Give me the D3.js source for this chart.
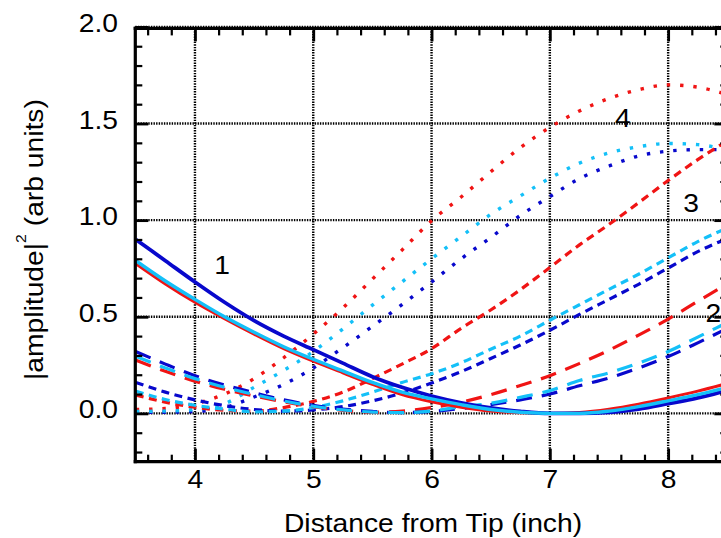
<!DOCTYPE html>
<html><head><meta charset="utf-8">
<script src="https://cdn.jsdelivr.net/npm/d3@7"></script>
<style>html,body{margin:0;padding:0;background:#fff;overflow:hidden}</style>
</head><body>
<svg id="chart" width="721" height="538"></svg>
<script>
// ---- data ----
const distance = [3.5, 3.75, 4.0, 4.25, 4.5, 4.75, 5.0, 5.25, 5.5, 5.75, 6.0, 6.25, 6.5, 6.75, 7.0, 7.25, 7.5, 7.75, 8.0, 8.25, 8.5];

// curve set 1 (solid)
const c1Red  = [0.775, 0.67, 0.575, 0.49, 0.41, 0.335, 0.27, 0.21, 0.15, 0.097, 0.06, 0.032, 0.012, 0.003, 0.0, 0.005, 0.022, 0.048, 0.08, 0.115, 0.155];
const c1Blue = [0.90, 0.79, 0.68, 0.575, 0.48, 0.40, 0.33, 0.26, 0.19, 0.135, 0.09, 0.055, 0.028, 0.01, 0.0, 0.0, 0.005, 0.022, 0.05, 0.08, 0.12];
const c1Cyan = [0.79, 0.685, 0.59, 0.50, 0.42, 0.345, 0.28, 0.22, 0.16, 0.11, 0.075, 0.045, 0.02, 0.006, 0.0, 0.0, 0.012, 0.035, 0.065, 0.097, 0.135];

// curve set 2 (long dash)
const c2Red  = [0.275, 0.218, 0.167, 0.125, 0.09, 0.06, 0.035, 0.016, 0.006, 0.012, 0.03, 0.058, 0.097, 0.144, 0.195, 0.258, 0.327, 0.405, 0.488, 0.58, 0.67];
const c2Blue = [0.32, 0.255, 0.195, 0.147, 0.107, 0.07, 0.042, 0.022, 0.01, 0.004, 0.01, 0.025, 0.045, 0.07, 0.10, 0.143, 0.183, 0.235, 0.294, 0.365, 0.44];
const c2Cyan = [0.295, 0.235, 0.18, 0.135, 0.098, 0.064, 0.037, 0.018, 0.007, 0.004, 0.012, 0.035, 0.052, 0.083, 0.118, 0.17, 0.21, 0.26, 0.32, 0.395, 0.47];

// curve set 3 (short dash)
const c3Red  = [0.095, 0.058, 0.032, 0.016, 0.012, 0.03, 0.062, 0.11, 0.18, 0.255, 0.335, 0.44, 0.535, 0.64, 0.755, 0.872, 0.978, 1.09, 1.205, 1.313, 1.41];
const c3Blue = [0.16, 0.11, 0.07, 0.04, 0.02, 0.012, 0.018, 0.035, 0.065, 0.105, 0.157, 0.216, 0.284, 0.354, 0.43, 0.512, 0.59, 0.668, 0.752, 0.837, 0.905];
const c3Cyan = [0.115, 0.072, 0.042, 0.022, 0.008, 0.012, 0.03, 0.065, 0.11, 0.16, 0.205, 0.262, 0.332, 0.40, 0.482, 0.562, 0.642, 0.72, 0.805, 0.889, 0.96];

// curve set 4 (dotted)
const c4Red  = [0.02, 0.025, 0.05, 0.1, 0.18, 0.288, 0.41, 0.545, 0.695, 0.845, 0.997, 1.12, 1.25, 1.375, 1.48, 1.565, 1.63, 1.675, 1.70, 1.688, 1.65];
const c4Blue = [0.005, 0.006, 0.01, 0.03, 0.085, 0.15, 0.235, 0.34, 0.45, 0.563, 0.68, 0.80, 0.91, 1.024, 1.122, 1.215, 1.28, 1.332, 1.357, 1.365, 1.365];
const c4Cyan = [0.01, 0.012, 0.02, 0.05, 0.135, 0.222, 0.32, 0.437, 0.56, 0.68, 0.80, 0.915, 1.03, 1.125, 1.217, 1.295, 1.348, 1.38, 1.397, 1.391, 1.365];

const xTicks = [4, 5, 6, 7, 8];
const yTicks = [0.0, 0.5, 1.0, 1.5, 2.0];

const curveLabels = ["1", "2", "3", "4"];
const curveLabelX = [4.229, 8.382, 8.193, 7.618];
const curveLabelY = [0.768, 0.518, 1.087, 1.527];

const xTitle = "Distance from Tip (inch)";

// ---- styles ----
const RED = "#f01414", BLUE = "#0808cc", CYAN = "#14c0f8";
const FONT = "'Liberation Sans', Arial, Helvetica, sans-serif";
const SX = 1.13;

const series = [
  {v: c4Red, c: RED, dash: "3.4,9.9", w: 3.4},
  {v: c4Blue, c: BLUE, dash: "3.4,9.9", w: 3.4},
  {v: c4Cyan, c: CYAN, dash: "3.4,9.9", w: 3.4},
  {v: c3Red, c: RED, dash: "8,5.5", w: 3.2},
  {v: c3Blue, c: BLUE, dash: "8,5.5", w: 3.2},
  {v: c3Cyan, c: CYAN, dash: "8,5.5", w: 3.2},
  {v: c2Red, c: RED, dash: "16,10", w: 3.2},
  {v: c2Blue, c: BLUE, dash: "16,10", w: 3.2},
  {v: c2Cyan, c: CYAN, dash: "16,10", w: 3.2},
  {v: c1Red, c: RED, dash: null, w: 3},
  {v: c1Blue, c: BLUE, dash: null, w: 3.8},
  {v: c1Cyan, c: CYAN, dash: null, w: 3.4}
];

const svg = d3.select("#chart");
const x = d3.scaleLinear().domain([3.5, 8.5]).range([135.8, 727.3]);
const y = d3.scaleLinear().domain([-0.25, 2.0]).range([461.7, 26.9]);
const pLeft = 135.3, pBottom = 461.7, pTop = 28.4, pRight = x(8.5);

svg.append("defs").append("clipPath").attr("id", "plotclip")
  .append("rect").attr("x", pLeft).attr("y", pTop).attr("width", pRight - pLeft).attr("height", pBottom - pTop);

// grid
const grid = svg.append("g").attr("stroke", "#000").attr("stroke-width", 2.4).attr("stroke-dasharray", "1.4,1.2");
grid.selectAll("line.vx").data(xTicks).join("line").attr("class", "vx")
  .attr("x1", d => x(d)).attr("x2", d => x(d)).attr("y1", y(-0.25)).attr("y2", y(2.0));
grid.selectAll("line.hy").data(yTicks).join("line").attr("class", "hy")
  .attr("x1", pLeft).attr("x2", pRight).attr("y1", d => y(d)).attr("y2", d => y(d));

// curves
const line = d3.line().x((d, i) => x(distance[i])).y(d => y(d)).curve(d3.curveMonotoneX);
const cg = svg.append("g").attr("clip-path", "url(#plotclip)");
series.forEach(s => {
  cg.append("path").datum(s.v).attr("d", line)
    .attr("fill", "none").attr("stroke", s.c).attr("stroke-width", s.w)
    .attr("stroke-dasharray", s.dash).attr("stroke-linecap", "butt");
});

// axes
const xMinor = d3.range(18, 43).map(i => i / 5).filter(v => Math.abs(v - Math.round(v)) > 1e-6);
const yMinor = d3.range(-2, 21).map(i => i / 10).filter(v => Math.abs(v * 2 - Math.round(v * 2)) > 1e-6);

function styleAxis(g, major) {
  g.selectAll(".tick line").attr("stroke", "#000").attr("stroke-width", major ? 2.8 : 2.2);
  g.select(".domain").attr("stroke", "#000").attr("stroke-width", 3.2).attr("stroke-linecap", "square");
}

// bottom
const gb = svg.append("g").attr("transform", `translate(0,${pBottom})`)
  .call(d3.axisBottom(x).tickValues(xTicks).tickSize(-13).tickSizeOuter(0).tickPadding(8.5).tickFormat(d3.format("d")));
styleAxis(gb, true);
gb.select(".domain").attr("d", `M${pLeft},0H${pRight}`);
gb.selectAll("text").attr("font-family", FONT).attr("font-size", 25).attr("fill", "#000").attr("transform", `scale(${SX},1)`);
const gbm = svg.append("g").attr("transform", `translate(0,${pBottom})`)
  .call(d3.axisBottom(x).tickValues(xMinor).tickSize(-7).tickSizeOuter(0).tickFormat(""));
gbm.select(".domain").remove(); styleAxis(gbm, false);

// top
const gt = svg.append("g").attr("transform", `translate(0,${pTop})`)
  .call(d3.axisTop(x).tickValues(xTicks).tickSize(-13).tickSizeOuter(0).tickFormat(""));
styleAxis(gt, true);
gt.select(".domain").attr("d", `M${pLeft},0H${pRight}`);
const gtm = svg.append("g").attr("transform", `translate(0,${pTop})`)
  .call(d3.axisTop(x).tickValues(xMinor).tickSize(-7).tickSizeOuter(0).tickFormat(""));
gtm.select(".domain").remove(); styleAxis(gtm, false);

// left
const gl = svg.append("g").attr("transform", `translate(${pLeft},0)`)
  .call(d3.axisLeft(y).tickValues(yTicks).tickSize(-13).tickSizeOuter(0).tickPadding(15.3).tickFormat(d3.format(".1f")));
styleAxis(gl, true);
gl.select(".domain").attr("d", `M0,${pBottom}V${pTop}`);
gl.selectAll("text").attr("font-family", FONT).attr("font-size", 25).attr("fill", "#000")
  .attr("dy", "0.18em").attr("transform", `scale(${SX},1)`);
const glm = svg.append("g").attr("transform", `translate(${pLeft},0)`)
  .call(d3.axisLeft(y).tickValues(yMinor).tickSize(-7).tickSizeOuter(0).tickFormat(""));
glm.select(".domain").remove(); styleAxis(glm, false);

// right
const gr = svg.append("g").attr("transform", `translate(${pRight},0)`)
  .call(d3.axisRight(y).tickValues(yTicks).tickSize(-13).tickSizeOuter(0).tickFormat(""));
styleAxis(gr, true);
gr.select(".domain").attr("d", `M0,${pBottom}V${pTop}`);
const grm = svg.append("g").attr("transform", `translate(${pRight},0)`)
  .call(d3.axisRight(y).tickValues(yMinor).tickSize(-7).tickSizeOuter(0).tickFormat(""));
grm.select(".domain").remove(); styleAxis(grm, false);

// curve labels
svg.append("g").selectAll("text").data(curveLabels).join("text")
  .attr("transform", (d, i) => `translate(${x(curveLabelX[i])},${y(curveLabelY[i])}) scale(${SX},1)`)
  .attr("text-anchor", "middle").attr("dy", "0.36em")
  .attr("font-family", FONT).attr("font-size", 25).attr("fill", "#000")
  .text(d => d);

// axis titles
svg.append("text")
  .attr("transform", `translate(433,532) scale(${SX},1)`)
  .attr("text-anchor", "middle").attr("font-family", FONT).attr("font-size", 25).attr("fill", "#000")
  .text(xTitle);

const yt = svg.append("text")
  .attr("transform", `translate(43,380) rotate(-90) scale(${SX},1)`)
  .attr("text-anchor", "start").attr("font-family", FONT).attr("font-size", 25).attr("fill", "#000");
yt.append("tspan").text("|amplitude|");
yt.append("tspan").attr("font-size", 14).attr("dy", -17).text("2");
yt.append("tspan").attr("dy", 17).text(" (arb units)");
</script>
</body></html>
